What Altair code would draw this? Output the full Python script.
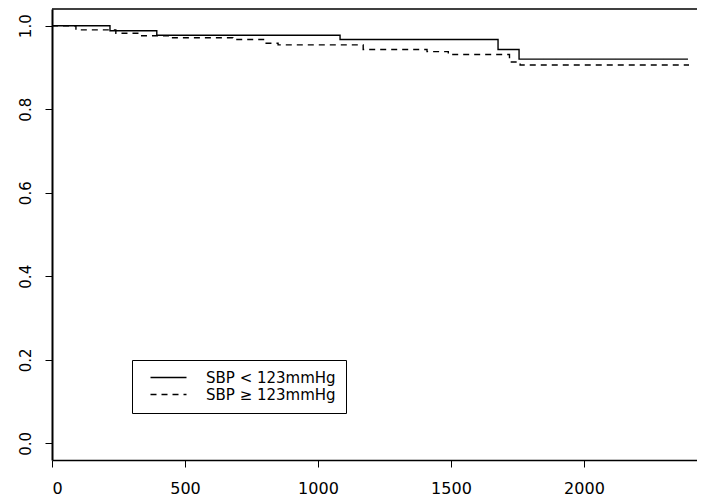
import altair as alt
import pandas as pd

# Survival step curves (time in days, cumulative survival)
groups = ["SBP < 123mmHg", "SBP ≥ 123mmHg"]
solid_times = [0, 218, 394, 1083, 1677, 1756, 2391]
solid_surv = [1.0, 0.988, 0.977, 0.967, 0.943, 0.920, 0.920]
dashed_times = [0, 90, 240, 330, 440, 680, 800, 850, 1170, 1410, 1490, 1720, 1760, 2395]
dashed_surv = [1.0, 0.990, 0.982, 0.976, 0.971, 0.967, 0.958, 0.954, 0.943, 0.938, 0.931, 0.913, 0.906, 0.906]
x_ticks = [0, 500, 1000, 1500, 2000]
y_ticks = [0.0, 0.2, 0.4, 0.6, 0.8, 1.0]

rows = []
for t, s in zip(solid_times, solid_surv):
    rows.append({"time": t, "surv": s, "group": groups[0]})
for t, s in zip(dashed_times, dashed_surv):
    rows.append({"time": t, "surv": s, "group": groups[1]})
df = pd.DataFrame(rows)

W, H = 645, 451
x_scale = alt.Scale(domain=[0, 2425], nice=False, zero=False)
y_scale = alt.Scale(domain=[-0.04, 1.04], nice=False, zero=False)

lines = alt.Chart(df).mark_line(
    interpolate="step-after", color="black", strokeWidth=1.4
).encode(
    x=alt.X("time:Q", scale=x_scale,
            axis=alt.Axis(values=x_ticks, title=None, format="d", grid=False,
                          domainColor="black", domainWidth=1.5, tickColor="black",
                          tickSize=7, tickWidth=1, labelFont="DejaVu Sans",
                          labelFontSize=16, labelColor="black", labelPadding=13)),
    y=alt.Y("surv:Q", scale=y_scale,
            axis=alt.Axis(values=y_ticks, title=None, format=".1f", grid=False,
                          domainColor="black", domainWidth=2, tickColor="black",
                          tickSize=7, tickWidth=1, labelFont="DejaVu Sans",
                          labelFontSize=15, labelColor="black", labelAngle=270,
                          labelPadding=12)),
    strokeDash=alt.StrokeDash(
        "group:N",
        scale=alt.Scale(domain=groups, range=[[1, 0], [6, 5]]),
        legend=alt.Legend(
            title=None, orient="none", legendX=132 - 52, legendY=360 - 9,
            symbolType="M0.2,0H7.4", symbolSize=100, symbolStrokeWidth=1.3,
            symbolStrokeColor="black", symbolFillColor="transparent",
            labelFont="DejaVu Sans", labelFontSize=15, labelColor="black",
            labelOffset=49, padding=10, strokeColor="black", rowPadding=1,
            labelLimit=400,
            labelExpr="datum.label + '\u00a0\u00a0\u00a0\u00a0\u00a0'",
        ),
    ),
)

frame = alt.Chart(pd.DataFrame({"edge": ["top"]})).mark_rule(
    color="black", strokeWidth=1.5
).encode(x=alt.value(0), x2=alt.value(W), y=alt.value(0))

chart = alt.layer(lines, frame).properties(
    width=W, height=H,
    autosize=alt.AutoSizeParams(type="none"),
    padding={"left": 44, "top": 1, "right": 0, "bottom": 38},
).configure_view(stroke=None)

chart.save("out.html", embed_options={"renderer": "svg", "actions": False})
